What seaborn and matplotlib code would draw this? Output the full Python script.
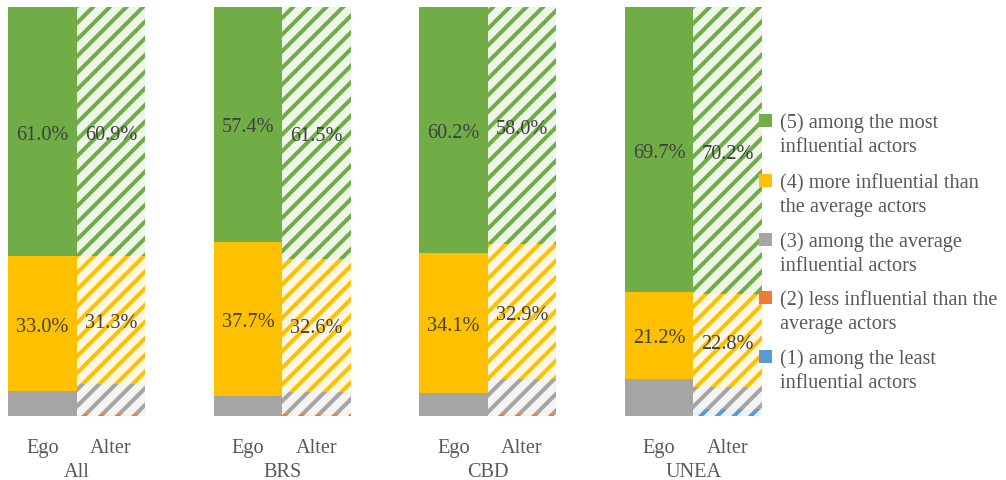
import matplotlib
matplotlib.use("Agg")
import matplotlib.pyplot as plt
from matplotlib.patches import Rectangle
from matplotlib.colors import to_rgb
from matplotlib.transforms import blended_transform_factory
import seaborn as sns
import numpy as np

# ---------------- data ----------------
groups = ["All", "BRS", "CBD", "UNEA"]
bar_kinds = ["Ego", "Alter"]
level_labels = [
    "(5) among the most\ninfluential actors",
    "(4) more influential than\nthe average actors",
    "(3) among the average\ninfluential actors",
    "(2) less influential than the\naverage actors",
    "(1) among the least\ninfluential actors",
]
ego_5 = [61.0, 57.4, 60.2, 69.7]
ego_4 = [33.0, 37.7, 34.1, 21.2]
ego_3 = [6.0, 4.9, 5.7, 9.1]
ego_2 = [0.0, 0.0, 0.0, 0.0]
ego_1 = [0.0, 0.0, 0.0, 0.0]
alter_5 = [60.9, 61.5, 58.0, 70.2]
alter_4 = [31.3, 32.6, 32.9, 22.8]
alter_3 = [7.3, 5.4, 8.5, 5.3]
alter_2 = [0.5, 0.5, 0.6, 0.1]
alter_1 = [0.0, 0.0, 0.0, 1.6]
level_colors = ["#70AD47", "#FFC000", "#A5A5A5", "#ED7D31", "#5B9BD5"]

# ---------------- style ----------------
sns.set_style("white")
plt.rcParams["font.family"] = ["Liberation Serif", "DejaVu Serif"]
plt.rcParams["hatch.linewidth"] = 2.9
FS = 14.6
TXT = "#595959"

W, H = 1006, 481
fig = plt.figure(figsize=(W / 100, H / 100), dpi=100)
ax = fig.add_axes([8 / W, (H - 417) / H, 754 / W, 409 / H])

ego = np.array([ego_5, ego_4, ego_3, ego_2, ego_1])
alt = np.array([alter_5, alter_4, alter_3, alter_2, alter_1])

ego_pos = [3 * g for g in range(len(groups))]
alt_pos = [3 * g + 1 for g in range(len(groups))]
positions = np.array(ego_pos + alt_pos)
alt_set = set(alt_pos)


def tint(c, a=0.12):
    r = np.array(to_rgb(c))
    return tuple(1 - a * (1 - r))


for k in range(5):
    cum_e = ego[k:].sum(axis=0)
    cum_a = alt[k:].sum(axis=0)
    vals = np.concatenate([cum_e, cum_a])
    n0 = len(ax.patches)
    sns.barplot(x=positions, y=vals, native_scale=True, width=1.0,
                color=level_colors[k], saturation=1, errorbar=None,
                orient="x", ax=ax)
    for p in ax.patches[n0:]:
        cx = p.get_x() + p.get_width() / 2
        p.set_linewidth(0)
        if int(round(cx)) in alt_set:
            p.set_facecolor(tint(level_colors[k]))
            p.set_edgecolor(level_colors[k])
            p.set_hatch("//")
        else:
            p.set_edgecolor(level_colors[k])

for k in (0, 1):
    for data, pos in ((ego, ego_pos), (alt, alt_pos)):
        base = data[k + 1:].sum(axis=0)
        for i, x in enumerate(pos):
            v = data[k][i]
            ax.text(x, base[i] + v / 2, f"{v:.1f}%", ha="center",
                    va="center_baseline", fontsize=FS, color="#404040")

ax.set_xlim(-0.5, 10.5)
ax.set_ylim(0, 100)
ax.set_xlabel("")
ax.set_ylabel("")
ax.set_yticks([])
ax.set_xticks(ego_pos + alt_pos)
ax.set_xticklabels(["Ego"] * len(groups) + ["Alter"] * len(groups),
                   fontsize=FS, color=TXT)
ax.tick_params(axis="x", length=0, pad=16)
for s in ax.spines.values():
    s.set_visible(False)

trans = blended_transform_factory(ax.transData, fig.transFigure)
for g, name in enumerate(groups):
    ax.text(3 * g + 0.5, 1 - 470 / H, name, transform=trans, ha="center",
            va="center_baseline", fontsize=FS, color=TXT)

first_line_y = [121, 181, 240, 298, 357]
for lab, col, y in zip(level_labels, level_colors, first_line_y):
    fig.patches.append(Rectangle((759 / W, 1 - (y + 7) / H), 13 / W, 13 / H,
                                 transform=fig.transFigure, facecolor=col,
                                 edgecolor="none"))
    for j, line in enumerate(lab.split("\n")):
        fig.text(780 / W, 1 - (y + 24 * j) / H, line, ha="left",
                 va="center_baseline", fontsize=FS, color=TXT)

fig.savefig("out.png", dpi=100)
